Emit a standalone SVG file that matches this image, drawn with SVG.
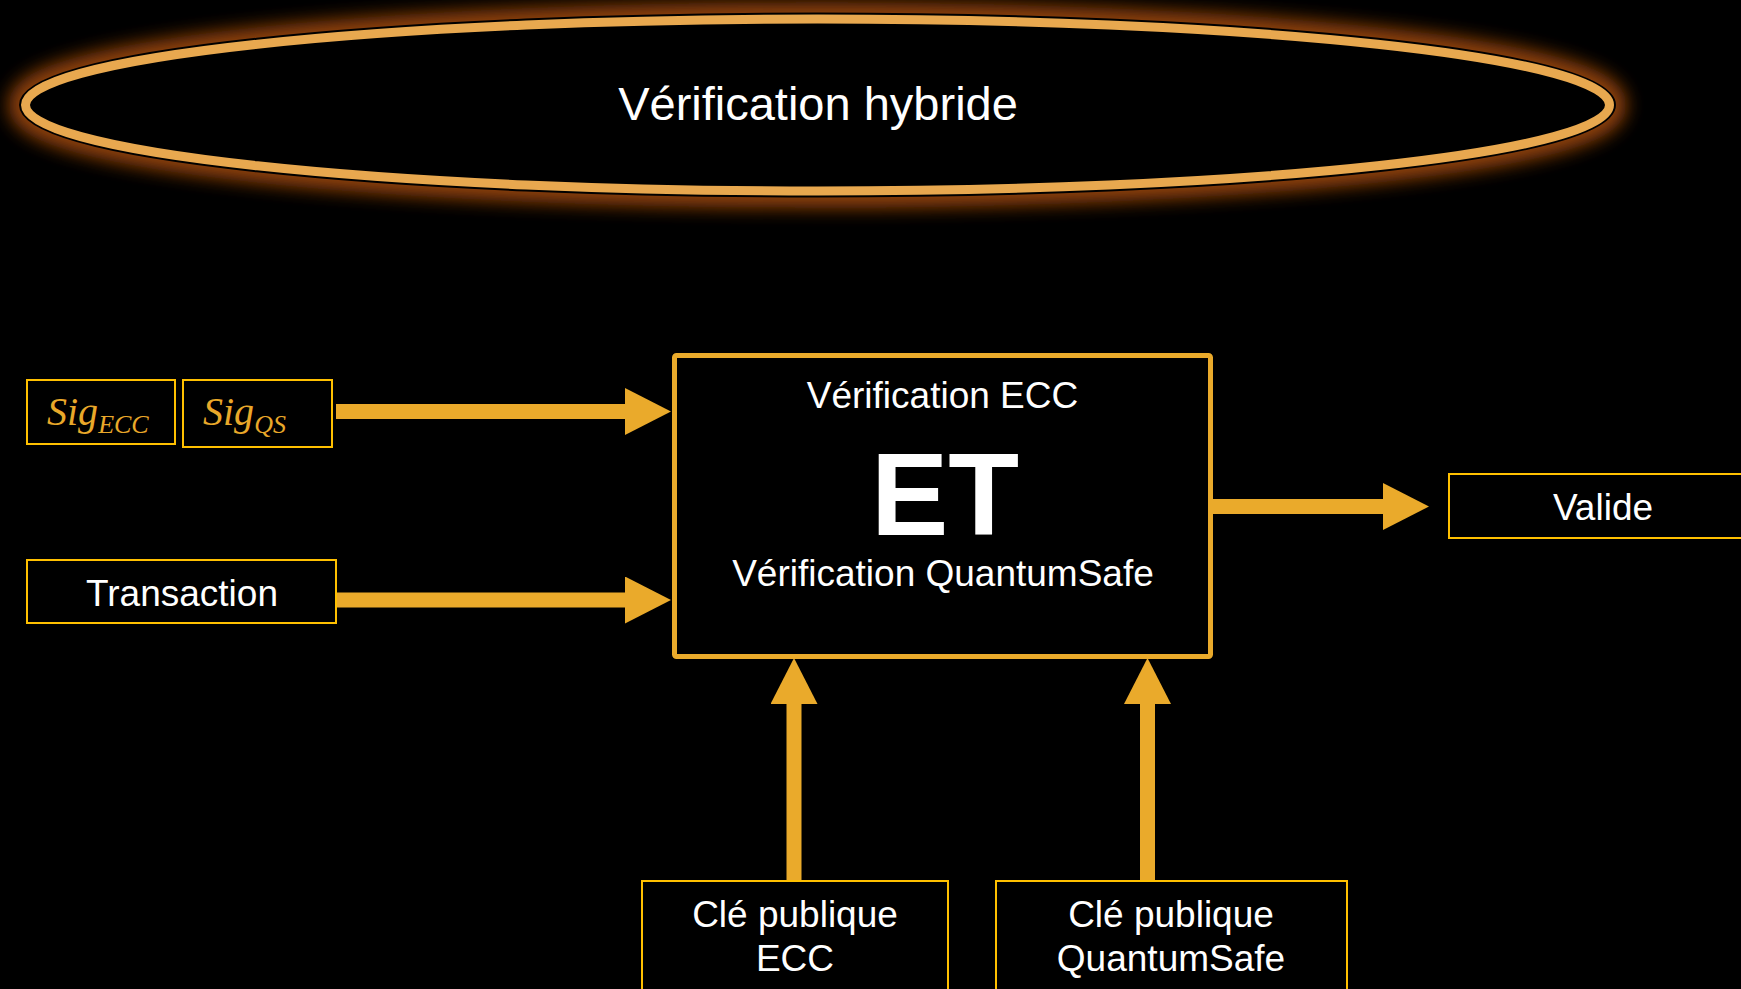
<svg xmlns="http://www.w3.org/2000/svg" width="1741" height="989" viewBox="0 0 1741 989">
  <defs>
    <filter id="glow" x="-10%" y="-50%" width="120%" height="200%">
      <feGaussianBlur stdDeviation="9"/>
    </filter>
    <marker id="ah" viewBox="0 0 46 47" refX="1" refY="23.5" markerWidth="46" markerHeight="47" markerUnits="userSpaceOnUse" orient="auto">
      <path d="M0,0 L46,23.5 L0,47 Z" fill="#EAAA2B"/>
    </marker>
    <style>
      .t { font-family: "Liberation Sans", Arial, sans-serif; fill: #FFFFFF; text-anchor: middle; }
      .box { fill: #000000; stroke: #FFC000; stroke-width: 2; }
      .conn { stroke: #EAAA2B; stroke-width: 15; fill: none; }
      .sig { font-family: "Liberation Serif", "Times New Roman", serif; font-style: italic; fill: #E9A82A; }
    </style>
  </defs>
  <rect width="1741" height="989" fill="#000000"/>

  <g id="title">
    <ellipse cx="817.5" cy="105" rx="792" ry="86" fill="none" stroke="#A04A08" stroke-width="34" opacity="0.9" filter="url(#glow)"/>
    <ellipse cx="817.5" cy="105" rx="792" ry="86" fill="#000000" stroke="#000000" stroke-width="13"/>
    <ellipse cx="817.5" cy="105" rx="792" ry="86" fill="none" stroke="#E8A84F" stroke-width="9"/>
    <text class="t" x="818" y="120" font-size="47">Vérification hybride</text>
  </g>

  <g id="connectors">
    <line class="conn" x1="336" y1="411.5" x2="626" y2="411.5" marker-end="url(#ah)"/>
    <line class="conn" x1="336" y1="600" x2="626" y2="600" marker-end="url(#ah)"/>
    <line class="conn" x1="1211" y1="506.5" x2="1384" y2="506.5" marker-end="url(#ah)"/>
    <line class="conn" x1="794" y1="881" x2="794" y2="703" stroke-width="16" marker-end="url(#ah)"/>
    <line class="conn" x1="1147.5" y1="881" x2="1147.5" y2="703" stroke-width="16" marker-end="url(#ah)"/>
  </g>

  <g id="sig-ecc">
    <rect class="box" x="27" y="380" width="148" height="64"/>
    <text class="sig" x="47" y="425" font-size="40">Sig<tspan font-size="26" dy="8">ECC</tspan></text>
  </g>

  <g id="sig-qs">
    <rect class="box" x="183" y="380" width="149" height="67"/>
    <text class="sig" x="203" y="425" font-size="40">Sig<tspan font-size="26" dy="8">QS</tspan></text>
  </g>

  <g id="transaction">
    <rect class="box" x="27" y="560" width="309" height="63"/>
    <text class="t" x="182" y="606" font-size="37">Transaction</text>
  </g>

  <g id="verification">
    <rect x="674.5" y="355.5" width="536" height="301" rx="2" fill="#000000" stroke="#EAAA2B" stroke-width="5"/>
    <text class="t" x="942.5" y="408" font-size="37">Vérification ECC</text>
    <text class="t" x="945" y="535" font-size="116" font-weight="bold">ET</text>
    <text class="t" x="943" y="586" font-size="37">Vérification QuantumSafe</text>
  </g>

  <g id="valide">
    <rect class="box" x="1449" y="474" width="300" height="64"/>
    <text class="t" x="1603" y="520" font-size="37">Valide</text>
  </g>

  <g id="cle-ecc">
    <rect class="box" x="642" y="881" width="306" height="120"/>
    <text class="t" x="795" y="927" font-size="37">Clé publique</text>
    <text class="t" x="795" y="971" font-size="37">ECC</text>
  </g>

  <g id="cle-qs">
    <rect class="box" x="996" y="881" width="351" height="120"/>
    <text class="t" x="1171" y="927" font-size="37">Clé publique</text>
    <text class="t" x="1171" y="971" font-size="37">QuantumSafe</text>
  </g>
</svg>
